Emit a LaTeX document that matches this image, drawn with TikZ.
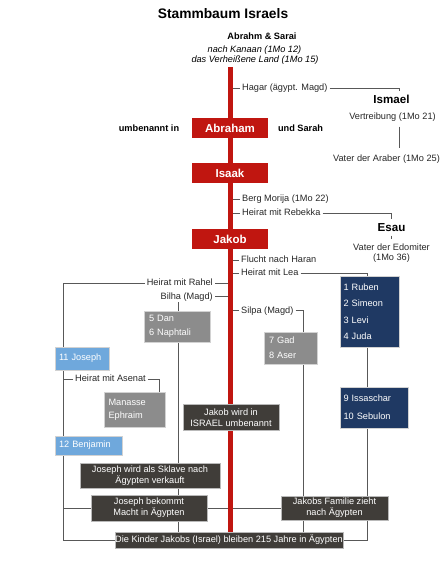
\documentclass[tikz,border=0pt]{standalone}
\usepackage{fontspec}
\setmainfont{Liberation Sans}
\usepackage{tikz}
\usetikzlibrary{backgrounds}

\definecolor{stammrot}{RGB}{192,22,16}
\definecolor{sohnblau}{RGB}{31,57,99}
\definecolor{magdgrau}{RGB}{140,140,140}
\definecolor{hellblau}{RGB}{111,168,220}
\definecolor{ereignis}{RGB}{64,61,57}
\definecolor{linie}{RGB}{88,88,88}

\newcommand{\txtsize}{\fontsize{9.2}{11}\selectfont}

\tikzstyle{gen} = [fill=stammrot, text=white, font=\bfseries\fontsize{11.5}{13}\selectfont, minimum width=76pt, minimum height=20pt, inner sep=0pt]
\tikzstyle{lbl} = [font=\txtsize, text=black!85, inner xsep=2pt, inner ysep=1pt, text height=6.8pt, text depth=2pt]
\tikzstyle{person} = [font=\bfseries\fontsize{11.6}{13}\selectfont, inner ysep=1pt]
\tikzstyle{sons} = [font=\txtsize, text=white, align=left, draw=gray!35, line width=0.5pt, inner ysep=0pt]
\tikzstyle{event} = [fill=ereignis, text=white, font=\txtsize, align=center, draw=gray!55, line width=0.5pt, inner sep=0pt]

\begin{document}
\begin{tikzpicture}[x=1pt, y=-1pt,
  conn/.style={draw=linie, line width=0.9pt},
  redbar/.style={draw=stammrot, line width=5.5pt}]

\useasboundingbox (0,0) rectangle (445,569);

% Title
\node (titel) at (223,18.3) [anchor=base, font=\bfseries\fontsize{13.8}{16}\selectfont] {Stammbaum Israels};
\node (abrsar) at (262,40) [anchor=base, font=\bfseries\txtsize] {Abrahm \& Sarai};
\node (kanaan) at (254.5,52.5) [anchor=base, font=\itshape\txtsize] {nach Kanaan (1Mo 12)};
\node (land) at (255,62.5) [anchor=base, font=\itshape\txtsize] {das Verheißene Land (1Mo 15)};

% Generations on the trunk
\node (abraham) at (230,128) [gen] {Abraham};
\node (isaak) at (230,173) [gen] {Isaak};
\node (jakob) at (230,239) [gen] {Jakob};
\node (umben) at (149,131.5) [anchor=base, font=\bfseries\txtsize] {umbenannt in};
\node (sarah) at (300.5,131.5) [anchor=base, font=\bfseries\txtsize] {und Sarah};

% Events beside the trunk
\node (hagar) at (240,88) [lbl, anchor=west] {Hagar (ägypt. Magd)};
\node (morija) at (240,199) [lbl, anchor=west] {Berg Morija (1Mo 22)};
\node (rebekka) at (240,213) [lbl, anchor=west] {Heirat mit Rebekka};
\node (flucht) at (239,260) [lbl, anchor=west] {Flucht nach Haran};
\node (lea) at (239,273) [lbl, anchor=west] {Heirat mit Lea};
\node (silpa) at (239,310.7) [lbl, anchor=west] {Silpa (Magd)};
\node (rahel) at (215,283.3) [lbl, anchor=east] {Heirat mit Rahel};
\node (bilha) at (215,296.7) [lbl, anchor=east] {Bilha (Magd)};
\node (asenat) at (73,379) [lbl, anchor=west] {Heirat mit Asenat};

% Side lines
\node (ismael) at (391.5,104) [person, anchor=base] {Ismael};
\node (vertr) at (392.5,119.5) [lbl, anchor=base] {Vertreibung (1Mo 21)};
\node (araber) at (386.5,161.5) [lbl, anchor=base] {Vater der Araber (1Mo 25)};
\node (esau) at (391.5,231.7) [person, anchor=base] {Esau};
\node (edomiter) at (391.5,250) [lbl, anchor=base] {Vater der Edomiter};
\node (mo36) at (391.5,260.5) [lbl, anchor=base] {(1Mo 36)};

% Sons of Jakob
\node (ruben) at (369.5,311.5) [sons, fill=sohnblau, text width=52pt, inner xsep=3.5pt, minimum height=71pt] {1 Ruben\\[5.5pt]2 Simeon\\[5.5pt]3 Levi\\[5.5pt]4 Juda};
\node (issa) at (374,407.5) [sons, fill=sohnblau, text width=61pt, inner xsep=3.5pt, minimum height=41pt] {9 Issaschar\\[7pt]10 Sebulon};
\node (dan) at (177,326.5) [sons, fill=magdgrau, text width=56pt, inner xsep=5pt, minimum height=31pt] {5 Dan\\[3pt]6 Naphtali};
\node (gad) at (290.5,348) [sons, fill=magdgrau, text width=43pt, inner xsep=5pt, minimum height=32pt] {7 Gad\\[4pt]8 Aser};
\node (joseph) at (82,358.5) [sons, fill=hellblau, text width=46pt, inner xsep=4pt, minimum height=23pt] {11 Joseph};
\node (benjamin) at (88.5,445.5) [sons, fill=hellblau, text width=59pt, inner xsep=4pt, minimum height=19pt] {12 Benjamin};
\node (manasse) at (134.5,409.5) [sons, fill=magdgrau, text width=52pt, inner xsep=4.5pt, minimum height=35pt] {Manasse\\[2pt]Ephraim};

% Events in Egypt
\node (israel) at (231,417.5) [event, minimum width=96pt, minimum height=26pt] {Jakob wird in\\ISRAEL umbenannt};
\node (sklave) at (150,475.5) [event, minimum width=140pt, minimum height=25pt] {Joseph wird als Sklave nach\\Ägypten verkauft};
\node (macht) at (149,508) [event, minimum width=116pt, minimum height=26pt] {Joseph bekommt\\Macht in Ägypten};
\node (familie) at (334.5,508) [event, minimum width=107pt, minimum height=24pt] {Jakobs Familie zieht\\nach Ägypten};
\node (kinder) at (229,540) [event, minimum width=228pt, minimum height=16pt] {Die Kinder Jakobs (Israel) bleiben 215 Jahre in Ägypten};

% Where the lines run
\coordinate (bar) at (230.5,67);
\coordinate (joe) at (63,0);
\coordinate (bil) at (178,0);
\coordinate (sil) at (303,0);
\coordinate (leax) at (367,0);
\coordinate (ism) at (399,0);
\coordinate (ase) at (159,0);

% Connectors behind the boxes
\begin{scope}[on background layer]
% ticks to the trunk
\foreach \ev in {hagar,morija,rebekka,flucht,lea,silpa}
  \draw[conn] (\ev.west) -- (\ev.west -| bar);
\foreach \ev in {rahel,bilha}
  \draw[conn] (\ev.east) -- (\ev.east -| bar);
% Ismael
\draw[conn, shorten >=3pt] (hagar.east) -| (ismael.north -| ism);
\draw[conn, shorten <=4pt, shorten >=5pt] (vertr.south -| ism) -- (araber.north -| ism);
% Esau
\draw[conn, shorten >=4pt] (rebekka.east) -| (esau.north);
\draw[conn, shorten <=2.5pt, shorten >=3.5pt] (esau.south) -- (edomiter.north);
% Lea
\draw[conn] (lea.east) -| (ruben.north -| leax);
\draw[conn] (ruben.south -| leax) -- (issa.north -| leax);
\draw[conn] (issa.south -| leax) |- (kinder.east);
% Rahel and Joseph
\draw[conn] (rahel.west) -| (kinder.west -| joe) -- (kinder.west);
\draw[conn] (asenat.west) -- (asenat.west -| joe);
\draw[conn] (asenat.east) -| (manasse.north -| ase);
\draw[conn] (macht.west) -- (macht.west -| joe);
\draw[conn] (macht.east) -- (familie.west);
% Bilha
\draw[conn] (bilha.south -| bil) -- (dan.north -| bil);
\draw[conn] (dan.south -| bil) -- (kinder.north -| bil);
% Silpa
\draw[conn] (silpa.east) -| (gad.north -| sil);
\draw[conn] (gad.south -| sil) -- (kinder.north -| sil);
% The trunk
\draw[redbar] (bar) -- (kinder.north -| bar);
\end{scope}

\end{tikzpicture}
\end{document}
